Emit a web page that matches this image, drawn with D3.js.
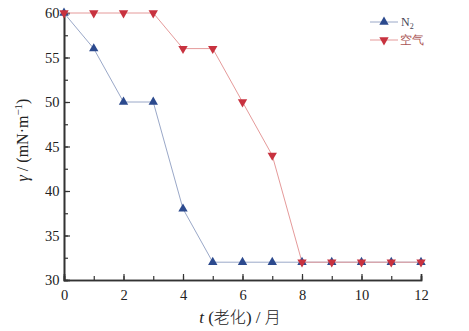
<!DOCTYPE html>
<html><head><meta charset="utf-8">
<script src="https://cdn.jsdelivr.net/npm/d3@7"></script>
<style>body{margin:0;background:#fff}svg{display:block}text{font-family:"Liberation Serif","DejaVu Serif",serif}</style>
</head><body><svg id="c" width="469" height="331"></svg>
<script>
const months = [0,1,2,3,4,5,6,7,8,9,10,11,12];
const n2 = [60,56,50,50,38,32,32,32,32,32,32,32,32];
const air = [60,60,60,60,56,56,50,44,32,32,32,32,32];
const xTicks = [0,2,4,6,8,10,12];
const yTicks = [30,35,40,45,50,55,60];
const seriesNames = ["N₂","空气"];

const svg = d3.select("#c");
const x = d3.scaleLinear().domain([0,12]).range([64,421]);
const y = d3.scaleLinear().domain([30,60]).range([280,13]);
const axisCol = "#333";

const gx = svg.append("g").attr("transform","translate(0,280)");
gx.call(d3.axisBottom(x).tickValues(d3.range(0,13,1)).tickSize(-4).tickFormat(""));
gx.append("g").call(d3.axisBottom(x).tickValues(xTicks).tickSize(-6).tickFormat(d3.format("d")));
const gy = svg.append("g").attr("transform","translate(64,0)");
gy.call(d3.axisLeft(y).tickValues(d3.range(30,60.1,2.5)).tickSize(-4).tickFormat(""));
gy.append("g").call(d3.axisLeft(y).tickValues(yTicks).tickSize(-6).tickFormat(d3.format("d")));
svg.selectAll(".domain").attr("stroke",axisCol).attr("stroke-width",1.6);
svg.selectAll(".tick line").attr("stroke",axisCol).attr("stroke-width",1.2);
svg.selectAll(".tick text").attr("font-size",14.5).attr("fill","#222").attr("font-family","Liberation Serif");
gx.selectAll(".tick text").attr("dy","1.2em");
gy.selectAll(".tick text").attr("dx","-0.1em");

const line = d3.line().x((d,i)=>x(months[i])).y(d=>y(d));
const blue="#2c4a8e", red="#c8323f";
svg.append("path").datum(n2).attr("d",line).attr("fill","none").attr("stroke","#9aa8c8").attr("stroke-width",1);
svg.append("path").datum(air).attr("d",line).attr("fill","none").attr("stroke","#e59a9a").attr("stroke-width",1);
const up = d3.symbol().type(d3.symbolTriangle).size(38);
svg.selectAll(".n2").data(n2).join("path").attr("transform",(d,i)=>`translate(${x(months[i])},${y(d)})`).attr("d",up).attr("fill",blue);
svg.selectAll(".air").data(air).join("path").attr("transform",(d,i)=>`translate(${x(months[i])},${y(d)}) rotate(180)`).attr("d",up).attr("fill",red);

const lg = svg.append("g");
[[blue,"#9aa8c8",0,0],[red,"#e59a9a",180,1]].forEach(([c,lc,rot,i])=>{
  const yy = 22 + i*18;
  lg.append("line").attr("x1",370).attr("x2",398).attr("y1",yy).attr("y2",yy).attr("stroke",lc).attr("stroke-width",1);
  lg.append("path").attr("d",up).attr("transform",`translate(384,${yy}) rotate(${rot})`).attr("fill",c);
});
const t1 = lg.append("text").attr("x",401).attr("y",26).attr("font-size",12).attr("fill","#445");
t1.append("tspan").text(seriesNames[0].charAt(0));
t1.append("tspan").text("2").attr("font-size",8).attr("dy",3);
lg.append("text").attr("x",400).attr("y",44).attr("font-size",12).attr("fill","#a55").attr("font-family","Noto Sans CJK SC").text(seriesNames[1]);

const xt = svg.append("text").attr("x",240).attr("y",323).attr("text-anchor","middle").attr("font-size",17).attr("fill","#222");
xt.append("tspan").attr("font-style","italic").text("t");
xt.append("tspan").text(" (");
xt.append("tspan").attr("font-family","Noto Sans CJK SC").attr("font-size",16).attr("font-weight",300).text("老化");
xt.append("tspan").text(") / ");
xt.append("tspan").attr("font-family","Noto Sans CJK SC").attr("font-size",16).attr("font-weight",300).text("月");

const yt = svg.append("text").attr("transform","translate(28,140) rotate(-90)").attr("text-anchor","middle").attr("font-size",16).attr("fill","#222");
yt.append("tspan").attr("font-style","italic").text("γ");
yt.append("tspan").text(" / (mN·m");
yt.append("tspan").text("−1").attr("font-size",11).attr("dy",-6);
yt.append("tspan").text(")").attr("dy",6);
</script></body></html>
